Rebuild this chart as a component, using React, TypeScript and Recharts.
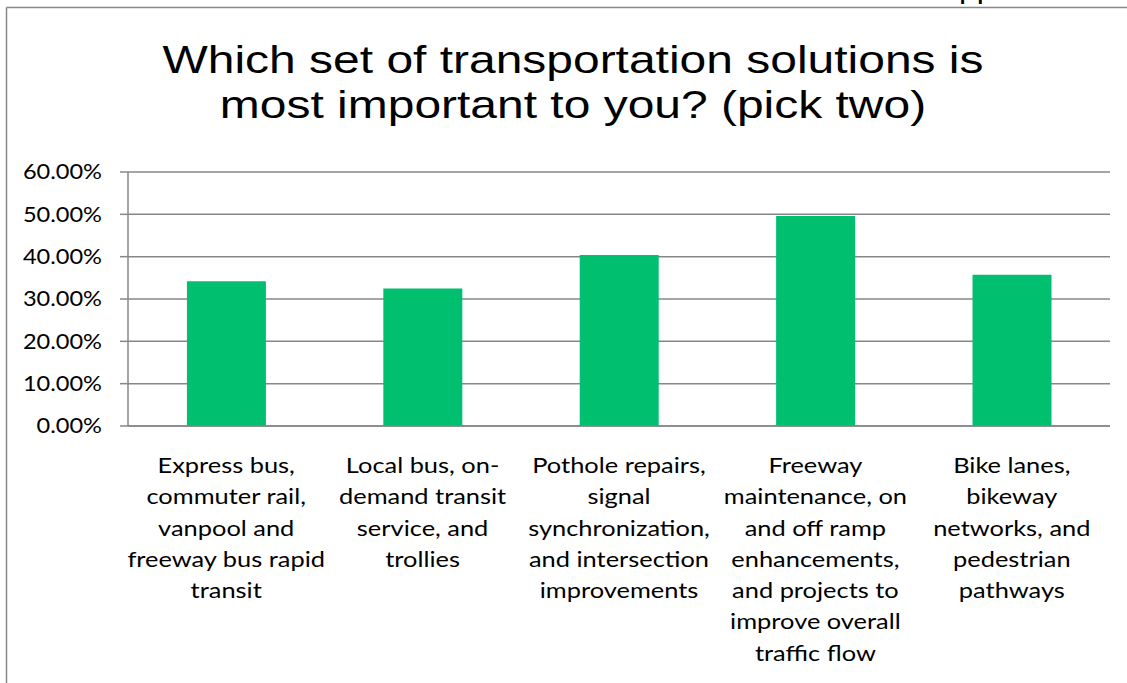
import React from "react";
import { BarChart, Bar, XAxis, YAxis, CartesianGrid } from "recharts";

const W = 1127;
const H = 683;

// Category labels, broken into the same lines as the slide.
const CATEGORY_LINES: string[][] = [
  ["Express bus,", "commuter rail,", "vanpool and", "freeway bus rapid", "transit"],
  ["Local bus, on-", "demand transit", "service, and", "trollies"],
  ["Pothole repairs,", "signal", "synchronization,", "and intersection", "improvements"],
  [
    "Freeway",
    "maintenance, on",
    "and off ramp",
    "enhancements,",
    "and projects to",
    "improve overall",
    "traffic flow",
  ],
  ["Bike lanes,", "bikeway", "networks, and", "pedestrian", "pathways"],
];
const SHARES = [0.342, 0.325, 0.404, 0.496, 0.357];
const Y_TICKS = [0, 0.1, 0.2, 0.3, 0.4, 0.5, 0.6];
const EDGE_TICKS = [0, 1, 2, 3, 4, 5];
const TITLE_LINES = ["Which set of transportation solutions is", "most important to you? (pick two)"];

const GRID = "#878787";
const BAR = "#00BF6F";
const LABEL_FONT = "Lato, 'Open Sans', sans-serif";

const data = CATEGORY_LINES.map((lines, i) => ({
  name: lines.join("\n"),
  share: SHARES[i],
}));

// the slide is stretched sideways, so the text is too
function CategoryTick(props: any) {
  const { x, y, payload } = props;
  const lines = String(payload.value).split("\n");
  return (
    <g transform={`translate(${x},${y}) scale(1.24,1)`}>
      <text x={0} y={0} textAnchor="middle" fill="#000" fontFamily={LABEL_FONT} fontSize={20.5}>
        {lines.map((ln, i) => (
          <tspan key={i} x={0} dy={i === 0 ? 39 : 31.3}>
            {ln}
          </tspan>
        ))}
      </text>
    </g>
  );
}

function ValueTick(props: any) {
  const { x, y, payload } = props;
  return (
    <g transform={`translate(${x},${y}) scale(1.15,1)`}>
      <text x={0} y={0} dy="0.355em" textAnchor="end" fill="#000" fontFamily={LABEL_FONT} fontSize={20.5}>
        {`${(payload.value * 100).toFixed(2)}%`}
      </text>
    </g>
  );
}

const EmptyTick = () => <g />;

export default function App() {
  return (
    <div
      style={{
        position: "absolute",
        left: 0,
        top: 0,
        width: W,
        height: H,
        background: "#fff",
        overflow: "hidden",
      }}
    >
      {/* frame of the slide chart */}
      <svg width={W} height={H} style={{ position: "absolute", left: 0, top: 0 }}>
        <text x={959} y={-3} fontFamily="'Liberation Sans', Arial, sans-serif" fontSize={32} fill="#000">
          pp
        </text>
        <line x1={6.5} y1={7.5} x2={W} y2={7.5} stroke={GRID} strokeWidth={1.5} />
        <line x1={6.5} y1={7.5} x2={6.5} y2={H} stroke={GRID} strokeWidth={1.5} />
        <g transform="translate(573,0) scale(1.23,1)">
          <text
            x={0}
            textAnchor="middle"
            fontFamily="'Liberation Sans', Arial, sans-serif"
            fontSize={39}
            fill="#000"
          >
            {TITLE_LINES.map((t, i) => (
              <tspan key={i} x={0} y={73 + i * 45.5}>
                {t}
              </tspan>
            ))}
          </text>
        </g>
      </svg>
      <div style={{ position: "absolute", left: 0, top: 0 }}>
        <BarChart
          width={W}
          height={H}
          data={data}
          margin={{ top: 172, right: 17, bottom: 7, left: 0 }}
          barCategoryGap="30%"
        >
          <CartesianGrid horizontal vertical={false} stroke={GRID} strokeWidth={1.5} />
          <XAxis
            xAxisId="edge"
            type="number"
            domain={[0, 5]}
            ticks={EDGE_TICKS}
            height={0}
            axisLine={false}
            tickSize={6}
            tickLine={{ stroke: GRID, strokeWidth: 1.5 }}
            tick={EmptyTick}
          />
          <XAxis
            xAxisId="cat"
            dataKey="name"
            height={250}
            interval={0}
            axisLine={{ stroke: GRID, strokeWidth: 1.5 }}
            tickLine={false}
            tick={<CategoryTick />}
          />
          <YAxis
            domain={[0, 0.6]}
            ticks={Y_TICKS}
            width={128}
            tickSize={8}
            tickMargin={18}
            axisLine={{ stroke: GRID, strokeWidth: 1.5 }}
            tickLine={{ stroke: GRID, strokeWidth: 1.5 }}
            tick={<ValueTick />}
          />
          <Bar xAxisId="cat" dataKey="share" fill={BAR} isAnimationActive={false} />
        </BarChart>
      </div>
    </div>
  );
}
